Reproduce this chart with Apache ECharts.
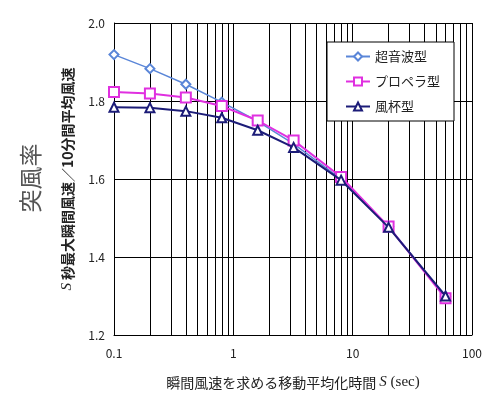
<!DOCTYPE html>
<html><head><meta charset="utf-8">
<script src="https://cdn.jsdelivr.net/npm/echarts@6/dist/echarts.min.js"></script>
<style>html,body{margin:0;padding:0;background:#fff}#c{width:500px;height:399px}</style>
</head><body><div id="c"></div>
<script>
const times = [0.1, 0.2, 0.4, 0.8, 1.6, 3.2, 8, 20, 60];
const ultrasonic = [1.919, 1.883, 1.843, 1.797, 1.748, 1.690, 1.600, 1.478, 1.298];
const propeller = [1.823, 1.819, 1.809, 1.787, 1.750, 1.699, 1.605, 1.478, 1.294];
const cup = [1.784, 1.783, 1.774, 1.757, 1.725, 1.681, 1.597, 1.476, 1.300];
const seriesNames = ['超音波型', 'プロペラ型', '風杯型'];
const yTicks = [1.2, 1.4, 1.6, 1.8, 2.0];

const font = '"Noto Sans CJK JP", "Noto Sans", sans-serif';
const pair = (vals) => times.map((t, i) => [t, vals[i]]);

const chart = echarts.init(document.getElementById('c'));
chart.setOption({
  animation: false,
  backgroundColor: '#fff',
  grid: { left: 114, right: 28, top: 23, bottom: 64, containLabel: false },
  legend: {
    orient: 'vertical', left: 327, top: 42, width: 110,
    padding: [8, 14, 8, 18], itemGap: 12, itemWidth: 24, itemHeight: 10,
    backgroundColor: '#fff', borderColor: '#000', borderWidth: 1,
    textStyle: { fontFamily: font, fontSize: 13, color: '#222' },
    data: seriesNames
  },
  xAxis: {
    type: 'log', logBase: 10, min: 0.1, max: 100,
    axisLine: { show: true, lineStyle: { color: '#000' } },
    axisTick: { show: false },
    axisLabel: { fontFamily: font, fontSize: 12, color: '#222', margin: 12,
      formatter: v => String(v) },
    splitLine: { show: true, lineStyle: { color: '#000', width: 1 } },
    minorTick: { show: false, splitNumber: 9 },
    minorSplitLine: { show: true, lineStyle: { color: '#000', width: 1 } },
    name: '{a|瞬間風速を求める移動平均化時間 }{i|S}{b| (sec)}',
    nameLocation: 'middle', nameGap: 40,
    nameTextStyle: { rich: {
      a: { fontFamily: font, fontSize: 14, color: '#222' },
      i: { fontFamily: '"Liberation Serif", serif', fontStyle: 'italic', fontSize: 15, color: '#222' },
      b: { fontFamily: '"Liberation Serif", serif', fontSize: 15, color: '#222' }
    } }
  },
  yAxis: {
    type: 'value', min: 1.2, max: 2.0, interval: 0.2,
    axisLine: { show: true, lineStyle: { color: '#000' } },
    axisTick: { show: false },
    axisLabel: { fontFamily: font, fontSize: 12, color: '#222', margin: 9,
      formatter: v => yTicks.includes(Math.round(v * 10) / 10) ? v.toFixed(1) : '' },
    splitLine: { show: true, lineStyle: { color: '#000', width: 1 } },
    name: '{i|S}{a| 秒最大瞬間風速／10分間平均風速}',
    nameLocation: 'middle', nameRotate: 90, nameGap: 39,
    nameTextStyle: { rich: {
      a: { fontFamily: font, fontSize: 14, fontWeight: 'bold', color: '#222' },
      i: { fontFamily: '"Liberation Serif", serif', fontStyle: 'italic', fontSize: 15, color: '#222' }
    } }
  },
  graphic: [{
    type: 'text', x: 30, y: 178, rotation: Math.PI / 2,
    style: { text: '突風率', fontFamily: font, fontSize: 23, fill: '#555',
      textAlign: 'center', textVerticalAlign: 'middle' }
  }],
  series: [
    { name: seriesNames[0], type: 'line', data: pair(ultrasonic), symbol: 'emptyDiamond', symbolSize: 9,
      lineStyle: { color: '#5a86d8', width: 1.5 }, itemStyle: { color: '#5a86d8', borderWidth: 1 }, z: 3 },
    { name: seriesNames[1], type: 'line', data: pair(propeller), symbol: 'emptyRect', symbolSize: 10,
      lineStyle: { color: '#e030e0', width: 2 }, itemStyle: { color: '#e030e0', borderWidth: 1 }, z: 4 },
    { name: seriesNames[2], type: 'line', data: pair(cup), symbol: 'emptyTriangle', symbolSize: 9,
      lineStyle: { color: '#1c1c78', width: 2 }, itemStyle: { color: '#1c1c78', borderWidth: 1 }, z: 5 }
  ]
});
</script></body></html>
